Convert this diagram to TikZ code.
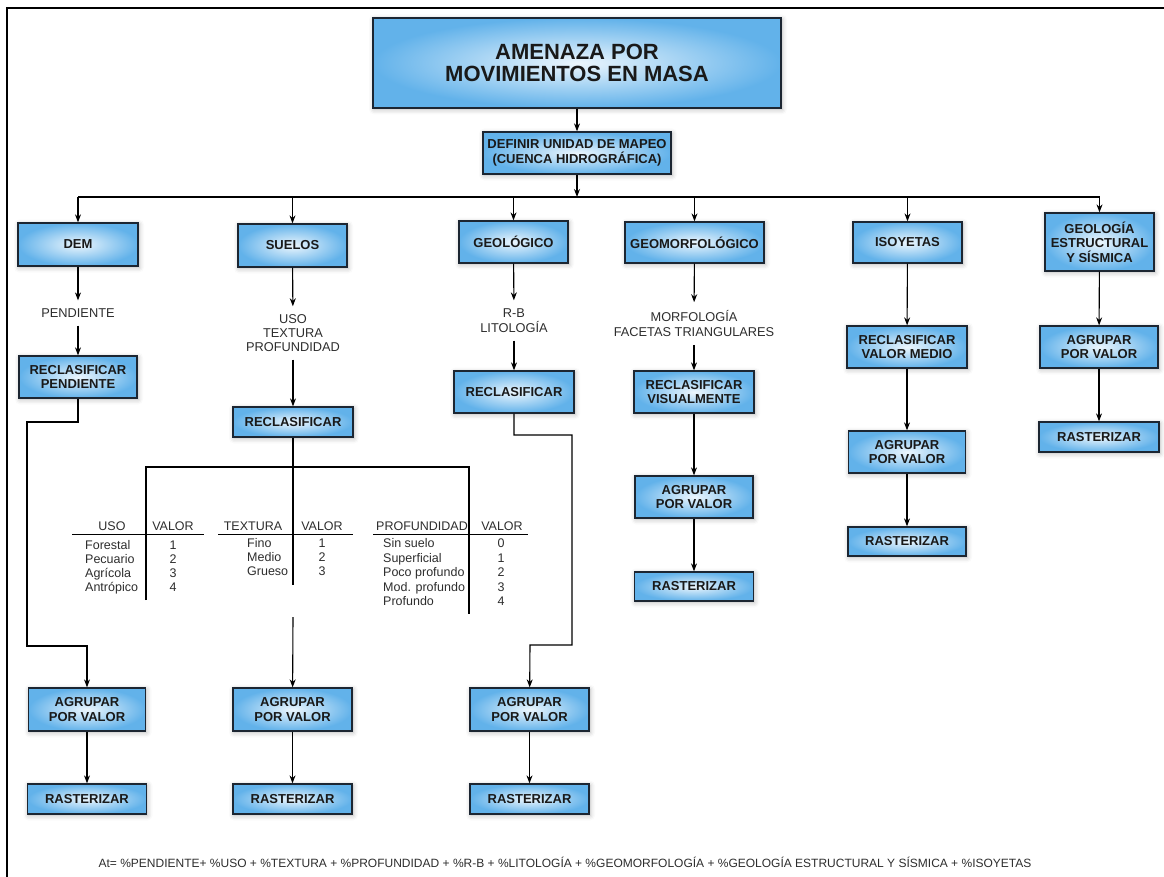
\documentclass[tikz,border=0pt]{standalone}
\usepackage{fontspec}
\setmainfont{Liberation Sans}
\usetikzlibrary{arrows.meta, shadows.blur}
\definecolor{cajaclaro}{RGB}{236,246,253}
\definecolor{cajaazul}{RGB}{98,178,234}
\definecolor{borde}{RGB}{28,38,50}
\definecolor{texto}{RGB}{45,45,45}

\begin{document}
\begin{tikzpicture}[x=1pt, y=-1pt,
  caja/.style={draw=borde, line width=1.3pt, shading=radial, inner color=cajaclaro, outer color=cajaazul, align=center, inner sep=0pt, text=black!90, font=\fontsize{13}{14.5}\selectfont\bfseries, blur shadow={shadow blur radius=5pt, shadow xshift=1pt, shadow yshift=-1.5pt, shadow opacity=30}},
  etiqueta/.style={align=center, inner sep=8pt, text=texto, font=\fontsize{12.8}{14.5}\selectfont},
  tabla/.style={inner sep=0pt, text height=9pt, text depth=2.5pt, text=texto, font=\fontsize{12.5}{14}\selectfont},
  cabeza/.style={tabla, font=\fontsize{12.5}{14}\selectfont},
  flecha/.style={->, >={Stealth[length=8pt, width=6pt]}, line width=1.1pt},
  linea/.style={line width=1.1pt}]
\useasboundingbox (0,0) rectangle (1164,877);
% marco
\draw [line width=2.2pt] (7,877) -- (7,8) -- (1164,8);
% cabecera
\node (titulo) at (577,63) [caja, minimum width=408, minimum height=90, font=\fontsize{22}{21.5}\selectfont\bfseries] {AMENAZA POR\\MOVIMIENTOS EN MASA};
\node (definir) at (577,153) [caja, minimum width=188, minimum height=42] {DEFINIR UNIDAD DE MAPEO\\(CUENCA HIDROGRÁFICA)};
\coordinate (J) at (577,197);
\coordinate (Jizq) at (78,197);
\coordinate (Jder) at (1099.5,197);
\draw [flecha] (titulo) -- (definir);
\draw [flecha] (definir) -- (J);
\draw [linea] (Jizq) -- (Jder);
% primera fila
\node (dem) at (78,244.5) [caja, minimum width=120, minimum height=43] {DEM};
\node (suelos) at (292.5,245.5) [caja, minimum width=109, minimum height=43] {SUELOS};
\node (geologico) at (513.5,242) [caja, minimum width=109, minimum height=42] {GEOLÓGICO};
\node (geomorf) at (694.5,242.5) [caja, minimum width=139, minimum height=41] {GEOMORFOLÓGICO};
\node (isoyetas) at (907.5,242.5) [caja, minimum width=109, minimum height=41] {ISOYETAS};
\node (geoestr) at (1099.5,242) [caja, minimum width=109, minimum height=58] {GEOLOGÍA\\ESTRUCTURAL\\Y SÍSMICA};
\draw [flecha] (dem |- J) -- (dem);
\draw [flecha] (suelos |- J) -- (suelos);
\draw [flecha] (geologico |- J) -- (geologico);
\draw [flecha] (geomorf |- J) -- (geomorf);
\draw [flecha] (isoyetas |- J) -- (isoyetas);
\draw [flecha] (geoestr |- J) -- (geoestr);
% DEM
\node (pend) at (78,313) [etiqueta] {PENDIENTE};
\node (recpend) at (78,377) [caja, minimum width=118, minimum height=42] {RECLASIFICAR\\PENDIENTE};
\node (agrupdem) at (87,709.5) [caja, minimum width=117, minimum height=43] {AGRUPAR\\POR VALOR};
\node (rastdem) at (87,799) [caja, minimum width=119, minimum height=30] {RASTERIZAR};
\coordinate (d1) at (27,422);
\coordinate (d2) at (87,646);
\draw [flecha] (dem) -- (pend);
\draw [flecha] (pend) -- (recpend);
\draw [flecha] (recpend.south) |- (d1) |- (d2) -- (agrupdem);
\draw [flecha] (agrupdem) -- (rastdem);
% SUELOS
\node (lsuelo) at (293,333) [etiqueta, font=\fontsize{12.8}{14}\selectfont] {USO\\TEXTURA\\PROFUNDIDAD};
\node (reclasuelo) at (293,422) [caja, minimum width=120, minimum height=30] {RECLASIFICAR};
\node (agrupsuelo) at (292.5,709.5) [caja, minimum width=119, minimum height=43] {AGRUPAR\\POR VALOR};
\node (rastsuelo) at (292.5,799) [caja, minimum width=119, minimum height=30] {RASTERIZAR};
\coordinate (s1) at (293,585);
\coordinate (s2) at (293,617);
\coordinate (r1) at (146,600);
\coordinate (r2) at (146,467);
\coordinate (r3) at (469,467);
\coordinate (r4) at (469,614);
\draw [flecha] (suelos) -- (lsuelo);
\draw [flecha] (lsuelo) -- (reclasuelo);
\draw [linea] (reclasuelo.south) -- (s1);
\draw [linea] (r1) -- (r2) -- (r3) -- (r4);
\draw [flecha] (s2) -- (agrupsuelo);
\draw [flecha] (agrupsuelo) -- (rastsuelo);
% tablas
\node (huso) at (112,527) [cabeza] {USO};
\node (husov) at (173,527) [cabeza] {VALOR};
\draw [line width=0.8pt] (72,534) -- (204,534);
\foreach \nom/\val [count=\i] in {Forestal/1, Pecuario/2, Agrícola/3, Antrópico/4} {
  \node (uso\i) at (85,{532+14*\i}) [tabla, anchor=west] {\nom};
  \node (usov\i) at (173,{532+14*\i}) [tabla] {\val};
}
\node (htex) at (253,527) [cabeza] {TEXTURA};
\node (htexv) at (322,527) [cabeza] {VALOR};
\draw [line width=0.8pt] (218,534) -- (353,534);
\foreach \nom/\val [count=\i] in {Fino/1, Medio/2, Grueso/3} {
  \node (tex\i) at (247,{530+14*\i}) [tabla, anchor=west] {\nom};
  \node (texv\i) at (322,{530+14*\i}) [tabla] {\val};
}
\node (hprof) at (422,527) [cabeza] {PROFUNDIDAD};
\node (hprofv) at (502,527) [cabeza] {VALOR};
\draw [line width=0.8pt] (373,534) -- (528,534);
\foreach \nom/\val [count=\i] in {Sin suelo/0, Superficial/1, Poco profundo/2, Mod. profundo/3, Profundo/4} {
  \node (prof\i) at (383,{530+14.5*\i}) [tabla, anchor=west] {\nom};
  \node (profv\i) at (501,{530+14.5*\i}) [tabla] {\val};
}
% GEOLOGICO
\node (lgeo) at (514,320.5) [etiqueta, font=\fontsize{12.8}{15}\selectfont] {R-B\\LITOLOGÍA};
\node (reclasgeo) at (514,392) [caja, minimum width=120, minimum height=42] {RECLASIFICAR};
\node (agrupgeo) at (529.5,709.5) [caja, minimum width=119, minimum height=43] {AGRUPAR\\POR VALOR};
\node (rastgeo) at (529.5,799) [caja, minimum width=119, minimum height=30] {RASTERIZAR};
\coordinate (g1) at (572,435);
\coordinate (g2) at (530,645);
\draw [flecha] (geologico) -- (lgeo);
\draw [flecha] (lgeo) -- (reclasgeo);
\draw [flecha] (reclasgeo.south) |- (g1) |- (g2) -- (agrupgeo);
\draw [flecha] (agrupgeo) -- (rastgeo);
% GEOMORFOLOGICO
\node (lmorf) at (694,323.5) [etiqueta, font=\fontsize{12.8}{15}\selectfont] {MORFOLOGÍA\\FACETAS TRIANGULARES};
\node (recvisual) at (694,392) [caja, minimum width=120, minimum height=42] {RECLASIFICAR\\VISUALMENTE};
\node (agrupmorf) at (694,497) [caja, minimum width=118, minimum height=42] {AGRUPAR\\POR VALOR};
\node (rastmorf) at (694,586.5) [caja, minimum width=119, minimum height=29] {RASTERIZAR};
\draw [flecha] (geomorf) -- (lmorf);
\draw [flecha] (lmorf) -- (recvisual);
\draw [flecha] (recvisual) -- (agrupmorf);
\draw [flecha] (agrupmorf) -- (rastmorf);
% ISOYETAS
\node (recmedio) at (907,347) [caja, minimum width=120, minimum height=42] {RECLASIFICAR\\VALOR MEDIO};
\node (agrupiso) at (907,452) [caja, minimum width=117, minimum height=42] {AGRUPAR\\POR VALOR};
\node (rastiso) at (907,541.5) [caja, minimum width=118, minimum height=29] {RASTERIZAR};
\draw [flecha] (isoyetas) -- (recmedio);
\draw [flecha] (recmedio) -- (agrupiso);
\draw [flecha] (agrupiso) -- (rastiso);
% GEOLOGIA ESTRUCTURAL
\node (agrupestr) at (1099,347) [caja, minimum width=118, minimum height=42] {AGRUPAR\\POR VALOR};
\node (rastestr) at (1099,437) [caja, minimum width=120, minimum height=30] {RASTERIZAR};
\draw [flecha] (geoestr) -- (agrupestr);
\draw [flecha] (agrupestr) -- (rastestr);
% formula
\node (formula) at (565,862) [text=texto, font=\fontsize{12}{14}\selectfont] {At= \%PENDIENTE+ \%USO + \%TEXTURA + \%PROFUNDIDAD + \%R-B + \%LITOLOGÍA + \%GEOMORFOLOGÍA + \%GEOLOGÍA ESTRUCTURAL Y SÍSMICA + \%ISOYETAS};
\end{tikzpicture}
\end{document}
